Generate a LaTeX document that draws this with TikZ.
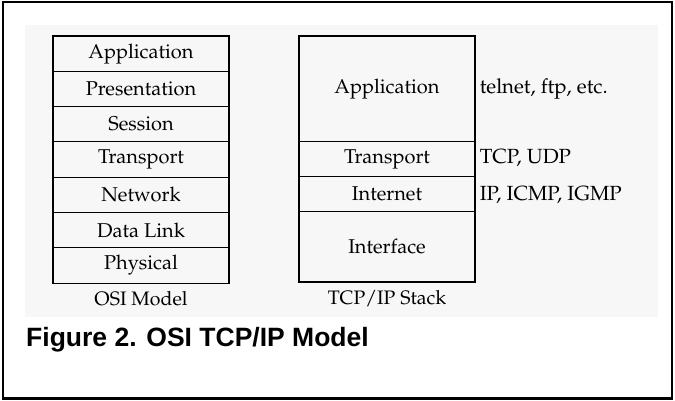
\documentclass[tikz,border=0pt]{standalone}
\usepackage[T1]{fontenc}
\usepackage{fontspec}
\setmainfont{Liberation Sans}
% Palatino (URW) for the layer labels
\newcommand\palfont{\fontencoding{T1}\fontfamily{ppl}\selectfont}
\tikzset{
  layer/.style={draw, line width=1.1pt, minimum width=176pt, inner sep=0pt,
    font=\palfont\fontsize{20}{23}\selectfont},
  proto/.style={anchor=base west, inner sep=0pt, xshift=4pt,
    font=\palfont\fontsize{20.5}{23}\selectfont},
  stackcap/.style={anchor=base, inner sep=0pt, yshift=-22pt,
    font=\palfont\fontsize{19.5}{22}\selectfont},
}
\begin{document}
\begin{tikzpicture}[x=1pt,y=-1pt]
\useasboundingbox (0,0) rectangle (675,400);
% faint scanned panel behind the stacks
\fill[black!3] (25,25) rectangle (658,317);
% outer frame
\draw[line width=2.5pt] (3,2) rectangle (672,398.5);

% OSI reference model, seven layers
\foreach \n/\t [count=\i from 0] in {osiapp/Application,osipres/Presentation,osisess/Session,ositrans/Transport,osinet/Network,osidl/Data Link,osiphy/Physical}
  \node[layer, minimum height=35.3pt] (\n) at (141, 53.65+35.3*\i) {\t};

% TCP/IP stack, four layers
\node[layer, minimum height=105.7pt] (tcpapp)   at (387, 88.85) {Application};
\node[layer, minimum height=35pt]    (tcptrans) at (387, 159.2) {Transport};
\node[layer, minimum height=35pt]    (tcpnet)   at (387, 194.2) {Internet};
\node[layer, minimum height=70.3pt]  (tcpif)    at (387, 246.85) {Interface};

% protocols beside the TCP/IP layers
\node[proto] (papp) at (tcpapp.base east) {telnet, ftp, etc.};
\node[proto] (ptrans) at (tcptrans.base east) {TCP, UDP};
\node[proto] (pnet) at (tcpnet.base east) {IP, ICMP, IGMP};

% captions under the stacks
\node[stackcap] (osicap) at (osiphy.south) {OSI Model};
\node[stackcap] (tcpcap) at (tcpif.south) {TCP/IP Stack};

% figure caption
\node[anchor=base west, inner sep=0pt, font=\bfseries\fontsize{26.5}{30}\selectfont] (figcap) at (26,346) {Figure 2. OSI TCP/IP Model};
\end{tikzpicture}
\end{document}
